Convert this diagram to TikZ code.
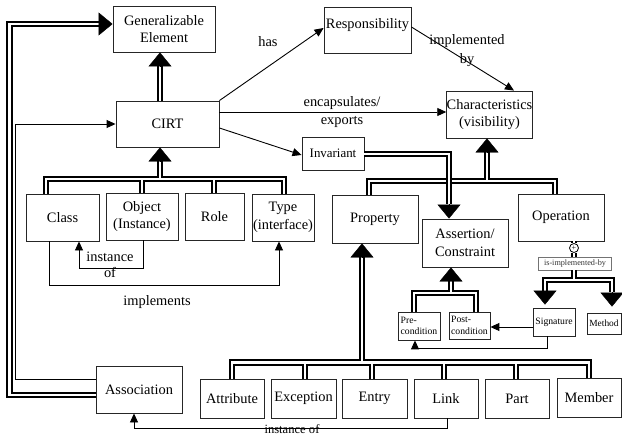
\documentclass[tikz,border=0pt]{standalone}
\usepackage{fontspec}
\setmainfont{Liberation Serif}
\usetikzlibrary{arrows.meta}
\newcommand\myfs[2]{\fontsize{#1}{#2}\selectfont}
\begin{document}
\begin{tikzpicture}[x=1pt,y=-1pt,
  box/.style={draw=black!85, line width=0.9pt, inner sep=0pt, align=center, font=\myfs{14.4}{17.5}},
  smallbox/.style={draw=black!85, line width=0.8pt, inner sep=0pt, align=left, font=\myfs{9.7}{11.4}},
  gen/.style={double=white, double distance=2.8pt, line width=1.85pt},
  gentip/.style={-{Triangle[length=14pt,width=23pt]}, line width=0.4pt},
  rel/.style={line width=0.9pt, -{Triangle[length=9pt,width=8pt]}},
  lbl/.style={inner sep=0pt, align=center, font=\myfs{14.4}{17.5}},
]
\useasboundingbox (0,0) rectangle (622,436);

% ---- boxes ----
\node[box, minimum width=102pt, minimum height=46pt] (GE) at (164,29) {Generalizable\\Element};
\node[box, minimum width=87pt, minimum height=46pt, text depth=13pt] (Resp) at (367.5,30) {Responsibility};
\node[box, minimum width=85pt, minimum height=47pt] (Char) at (489.5,114.5) {Characteristics\\(visibility)};
\node[box, minimum width=103pt, minimum height=46pt] (CIRT) at (167.5,124) {CIRT};
\node[box, minimum width=62pt, minimum height=33pt, font=\myfs{12.9}{15}] (Invariant) at (333,153.5) {Invariant};
\node[box, minimum width=73pt, minimum height=47pt] (Class) at (62.5,217.5) {Class};
\node[box, minimum width=72pt, minimum height=47pt] (Object) at (142,216.5) {Object\\(Instance)};
\node[box, minimum width=59pt, minimum height=47pt] (Role) at (214.5,216.5) {Role};
\node[box, minimum width=62pt, minimum height=47pt] (Type) at (283,217.5) {Type\\(interface)};
\node[box, minimum width=86pt, minimum height=48pt] (Property) at (375,219) {Property};
\node[box, minimum width=86pt, minimum height=48pt] (Assertion) at (465,243) {Assertion/\\Constraint};
\node[box, minimum width=86pt, minimum height=47pt] (Operation) at (561,217.5) {Operation};
\node[draw=black!55, line width=0.8pt, inner sep=0pt, minimum width=73pt, minimum height=13pt,
      text=black!80, font=\myfs{8.2}{9}] (isimpl) at (575,263.5) {is-implemented-by};
\node[circle, draw, line width=0.8pt, inner sep=0pt, minimum size=9pt, font=\myfs{8}{8}] (plus) at (574,248) {+};
\node[smallbox, minimum width=42pt, minimum height=28pt] (Signature) at (554,322) {Signature};
\node[smallbox, minimum width=34pt, minimum height=21pt, font=\myfs{9.4}{11}] (Method) at (604,323.5) {Method};
\node[smallbox, minimum width=42pt, minimum height=28pt] (Pre) at (419,326) {Pre-\\condition};
\node[smallbox, minimum width=41pt, minimum height=27pt] (Post) at (469.5,325.5) {Post-\\condition};
\node[box, minimum width=86pt, minimum height=47pt] (Association) at (139,389.5) {Association};
\node[box, minimum width=64pt, minimum height=39pt] (Attribute) at (232,398.5) {Attribute};
\node[box, minimum width=65pt, minimum height=39pt] (Exception) at (303.5,398.5) {Exception};
\node[box, minimum width=65pt, minimum height=39pt] (Entry) at (374.5,398.5) {Entry};
\node[box, minimum width=64pt, minimum height=39pt] (Link) at (446,398.5) {Link};
\node[box, minimum width=64pt, minimum height=39pt] (Part) at (517,398.5) {Part};
\node[box, minimum width=64pt, minimum height=39pt] (Member) at (589,397.5) {Member};

% ---- labels ----
\node[lbl] (has) at (268,42) {has};
\node[lbl] (encexp) at (342,112) {encapsulates/\\exports};
\node[lbl, font=\myfs{14.4}{19}] (implby) at (467,51) {implemented\\by};
\node[lbl, font=\myfs{14.4}{16.6}] (instof) at (110,265) {instance\\of};
\node[lbl] (implements) at (157,302) {implements};
\node[lbl, font=\myfs{12.6}{14}] (instof2) at (292,429) {instance of};

% ---- generalisation: CIRT -> Generalizable Element ----
\coordinate (a1) at (160,66);
\draw[gen] (CIRT.north -| a1) -- (a1);
\draw[gentip] (a1) -- (GE.south -| a1);

% ---- Class, Object, Role, Type -> CIRT ----
\coordinate (bC) at (46,179);
\coordinate (bO) at (142,179);
\coordinate (bR) at (214,179);
\coordinate (bT) at (284,179);
\coordinate (b0) at (160,179);
\coordinate (b1) at (160,161);
\draw[gen] (Class.north -| bC) -- (bC) -- (bT) -- (Type.north -| bT)
  (Object.north -| bO) -- (bO) (Role.north -| bR) -- (bR) (b0) -- (b1);
\draw[gentip] (b1) -- (CIRT.south -| b1);

% ---- Property, Operation -> Characteristics ----
\coordinate (cP) at (369,181);
\coordinate (cO) at (555,181);
\coordinate (c0) at (487,181);
\coordinate (c1) at (487,152);
\draw[gen] (Property.north -| cP) -- (cP) -- (cO) -- (Operation.north -| cO) (c0) -- (c1);
\draw[gentip] (c1) -- (Char.south -| c1);

% ---- Invariant -> Assertion/Constraint ----
\coordinate (d0) at (449,154);
\coordinate (d1) at (449,204);
\draw[gen] (Invariant.east |- d0) -- (d0) -- (d1);
\draw[gentip] (d1) -- (Assertion.north -| d1);

% ---- bottom row -> Property ----
\coordinate (eA) at (232,362.5);
\coordinate (eX) at (305,362.5);
\coordinate (eE) at (372,362.5);
\coordinate (eL) at (444,362.5);
\coordinate (eP) at (516,362.5);
\coordinate (eM) at (589,362.5);
\coordinate (e0) at (362,362.5);
\coordinate (e1) at (362,257);
\draw[gen] (Attribute.north -| eA) -- (eA) -- (eM) -- (Member.north -| eM)
  (Exception.north -| eX) -- (eX) (Entry.north -| eE) -- (eE)
  (Link.north -| eL) -- (eL) (Part.north -| eP) -- (eP) (e0) -- (e1);
\draw[gentip] (e1) -- (Property.south -| e1);

% ---- Pre-/Post-condition -> Assertion/Constraint ----
\coordinate (fR) at (414,293);
\coordinate (fO) at (476,293);
\coordinate (f0) at (451,293);
\coordinate (f1) at (451,280);
\draw[gen] (Pre.north -| fR) -- (fR) -- (fO) -- (Post.north -| fO) (f0) -- (f1);
\draw[gentip] (f1) -- (Assertion.south -| f1);

% ---- Operation is-implemented-by Signature / Method ----
\coordinate (g0) at (574,280);
\coordinate (gS) at (545,280);
\coordinate (gM) at (612,280);
\coordinate (gS1) at (545,291);
\coordinate (gM1) at (612,292);
\draw[gen] (Operation.south -| plus) -- (plus.north) (plus.south) -- (isimpl.north -| plus)
  (isimpl.south -| g0) -- (g0) (gS1) -- (gS) -- (gM) -- (gM1);
\draw[gentip, shorten >=3pt] (gS1) -- (Signature.north -| gS1);
\draw[gentip, shorten >=6pt] (gM1) -- (Method.north -| gM1);

% ---- Association -> Generalizable Element ----
\coordinate (q1) at (9.5,395);
\coordinate (q2) at (9.5,24);
\coordinate (q3) at (99,24);
\draw[gen] (Association.west |- q1) -- (q1) -- (q2) -- (q3);
\draw[gentip] (q3) -- (GE.west |- q3);

% ---- plain relations ----
\coordinate (r1) at (15,379);
\draw[rel] (Association.west |- r1) -- (r1) |- (CIRT.west);

\coordinate (i1) at (49,285);
\coordinate (i2) at (279,285);
\draw[rel] (Class.south -| i1) -- (i1) -- (i2) -- (Type.south -| i2);

\coordinate (o1) at (143,268);
\coordinate (o2) at (79,268);
\draw[rel] (Object.south -| o1) -- (o1) -- (o2) -- (Class.south -| o2);

\coordinate (l1) at (447,428);
\coordinate (l2) at (134,428);
\draw[rel] (Link.south -| l1) -- (l1) -- (l2) -- (Association.south -| l2);

\draw[rel] (CIRT.north east) -- ([yshift=2pt]Resp.west);
\coordinate (enc) at (0,112);
\draw[rel] (CIRT.east |- enc) -- (Char.west |- enc);
\draw[rel] ([yshift=-4pt]CIRT.east) -- ([yshift=-1.5pt]Invariant.west);
\coordinate (cimpl) at (514,0);
\draw[rel] ([yshift=3pt]Resp.east) -- (Char.north -| cimpl);

\coordinate (s1) at (0,327);
\draw[rel] (Signature.west |- s1) -- (Post.east |- s1);
\coordinate (s2) at (547,348);
\coordinate (s3) at (415,348);
\draw[rel] (Signature.south -| s2) -- (s2) -- (s3) -- (Pre.south -| s3);
\end{tikzpicture}
\end{document}
